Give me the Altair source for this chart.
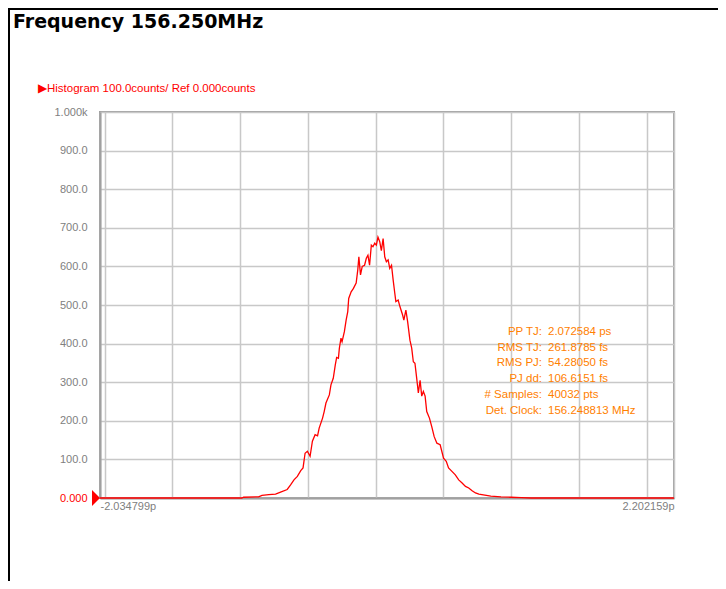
import altair as alt
import pandas as pd

# ---------------- data ----------------
title_text = "Frequency 156.250MHz"
header_text = "\u25b6Histogram 100.0counts/ Ref 0.000counts"
x_min, x_max = -2.034799, 2.202159
x_labels = ["-2.034799p", "2.202159p"]
grid_x = [-2.0, -1.5, -1.0, -0.5, 0.0, 0.5, 1.0, 1.5, 2.0]
y_ticks = [0, 100, 200, 300, 400, 500, 600, 700, 800, 900, 1000]

x_ps = [-2.034799, -1.087, -0.988, -0.975, -0.864, -0.839, -0.789, -0.739, -0.702, -0.653,
        -0.628, -0.603, -0.578, -0.553, -0.536, -0.521, -0.504, -0.484, -0.467, -0.447,
        -0.429, -0.417, -0.392, -0.380, -0.367, -0.342, -0.330, -0.313, -0.298, -0.288,
        -0.275, -0.268, -0.256, -0.248, -0.231, -0.218, -0.206, -0.199, -0.181, -0.164,
        -0.144, -0.132, -0.124, -0.112, -0.099, -0.082, -0.069, -0.057, -0.045, -0.032,
        -0.020, -0.007, 0.005, 0.017, 0.030, 0.042, 0.055, 0.067, 0.079, 0.092,
        0.104, 0.117, 0.129, 0.141, 0.149, 0.166, 0.179, 0.199, 0.208, 0.223,
        0.236, 0.253, 0.266, 0.278, 0.290, 0.303, 0.315, 0.328, 0.340, 0.352,
        0.365, 0.377, 0.397, 0.414, 0.432, 0.452, 0.476, 0.501, 0.521, 0.538,
        0.563, 0.588, 0.613, 0.638, 0.663, 0.687, 0.712, 0.737, 0.762, 0.850,
        0.925, 0.999, 1.074, 1.148, 2.202159]
counts = [0, 0, 0, 2, 3, 7, 9, 10, 15, 22,
          34, 47, 56, 71, 78, 116, 121, 108, 147, 164,
          161, 181, 207, 224, 246, 267, 293, 310, 345, 364,
          362, 388, 414, 405, 431, 461, 483, 517, 534, 543,
          557, 591, 625, 578, 600, 603, 621, 629, 603, 655,
          651, 660, 655, 676, 664, 641, 672, 625, 612, 617,
          595, 603, 565, 531, 509, 513, 496, 474, 461, 487,
          457, 409, 388, 353, 349, 310, 272, 305, 264, 276,
          264, 224, 207, 185, 159, 142, 138, 103, 95, 78,
          69, 60, 47, 39, 30, 26, 19, 13, 10, 5,
          3, 2, 1, 0, 0]

stat_labels = ["PP TJ:", "RMS TJ:", "RMS PJ:", "PJ dd:", "# Samples:", "Det. Clock:"]
stat_values = ["2.072584 ps", "261.8785 fs", "54.28050 fs", "106.6151 fs", "40032 pts", "156.248813 MHz"]

# ---------------- layout ----------------
W, H = 574, 386
PAD = {"left": 92, "top": 104, "right": 44, "bottom": 83}
GRAY = "#808080"
ORANGE = "#ff8000"
RED = "#ff0000"
LBL_FONT = "Liberation Sans"

df = pd.DataFrame({"x": x_ps, "y": counts})
xscale = alt.Scale(domain=[x_min, x_max], nice=False, zero=False)
yscale = alt.Scale(domain=[0, 1000], nice=False)

x_axis = alt.Axis(
    values=[x_min] + grid_x + [x_max],
    labelExpr=f"datum.value < {x_min + 0.01} ? '{x_labels[0]}' : (datum.value > {x_max - 0.01} ? '{x_labels[1]}' : '')",
    labelFlush=True, labelOverlap=False, ticks=False, labelPadding=2,
    grid=True, gridColor="#c8c8c8", gridWidth=1.5,
    domainColor="#a0a0a0", domainWidth=2,
    labelFont=LBL_FONT, labelFontSize=11, labelColor=GRAY, title=None)

y_axis = alt.Axis(
    values=y_ticks,
    labelExpr="datum.value == 1000 ? '1.000k' : (datum.value == 0 ? '0.000' : format(datum.value, '.1f'))",
    labelColor={"condition": {"test": "datum.value == 0", "value": RED}, "value": GRAY},
    ticks=False, labelPadding=13, labelOverlap=False, labelBound=False,
    grid=True, gridColor="#c8c8c8", gridWidth=1.5,
    domainColor="#a0a0a0", domainWidth=2,
    labelFont=LBL_FONT, labelFontSize=11, title=None)

line = alt.Chart(df).mark_line(color=RED, strokeWidth=1.3).encode(
    x=alt.X("x:Q", scale=xscale, axis=x_axis),
    y=alt.Y("y:Q", scale=yscale, axis=y_axis),
)

marker = alt.Chart(pd.DataFrame({"a": [0]})).mark_point(
    shape="M -0.5 -1 L 0.5 0 L -0.5 1 Z", filled=True, color=RED, opacity=1, size=256
).encode(x=alt.value(-4), y=alt.value(H))

layers = [line, marker]

# title and header
layers.append(alt.Chart(pd.DataFrame({"t": [title_text]})).mark_text(
    align="left", baseline="alphabetic", font="DejaVu Sans", fontWeight="bold",
    fontSize=19, color="black").encode(text="t:N", x=alt.value(-87), y=alt.value(-84.5)))
layers.append(alt.Chart(pd.DataFrame({"t": [header_text]})).mark_text(
    align="left", baseline="middle", font=LBL_FONT, fontSize=11.5, color=RED
).encode(text="t:N", x=alt.value(-62), y=alt.value(-23.5)))

# stats block
for i, (lab, val) in enumerate(zip(stat_labels, stat_values)):
    yy = 220 + i * 15.7
    layers.append(alt.Chart(pd.DataFrame({"t": [lab]})).mark_text(
        align="right", baseline="middle", font=LBL_FONT, fontSize=11.5, color=ORANGE
    ).encode(text="t:N", x=alt.value(442), y=alt.value(yy)))
    layers.append(alt.Chart(pd.DataFrame({"t": [val]})).mark_text(
        align="left", baseline="middle", font=LBL_FONT, fontSize=11.5, color=ORANGE
    ).encode(text="t:N", x=alt.value(448), y=alt.value(yy)))

# outer frame (top and left black lines)
layers.append(alt.Chart(pd.DataFrame({"a": [0]})).mark_rule(color="black", strokeWidth=2).encode(
    x=alt.value(-PAD["left"]), x2=alt.value(W + PAD["right"]), y=alt.value(-PAD["top"] + 1)))
layers.append(alt.Chart(pd.DataFrame({"a": [0]})).mark_rule(color="black", strokeWidth=2).encode(
    x=alt.value(-PAD["left"] + 1), y=alt.value(-PAD["top"]), y2=alt.value(H + PAD["bottom"])))

chart = alt.layer(*layers).properties(
    width=W, height=H,
    autosize=alt.AutoSizeParams(type="none"),
    padding=PAD,
    background="white",
).configure_view(stroke="#a0a0a0", strokeWidth=2)

chart.save("out.html", embed_options={"renderer": "svg", "actions": False})
